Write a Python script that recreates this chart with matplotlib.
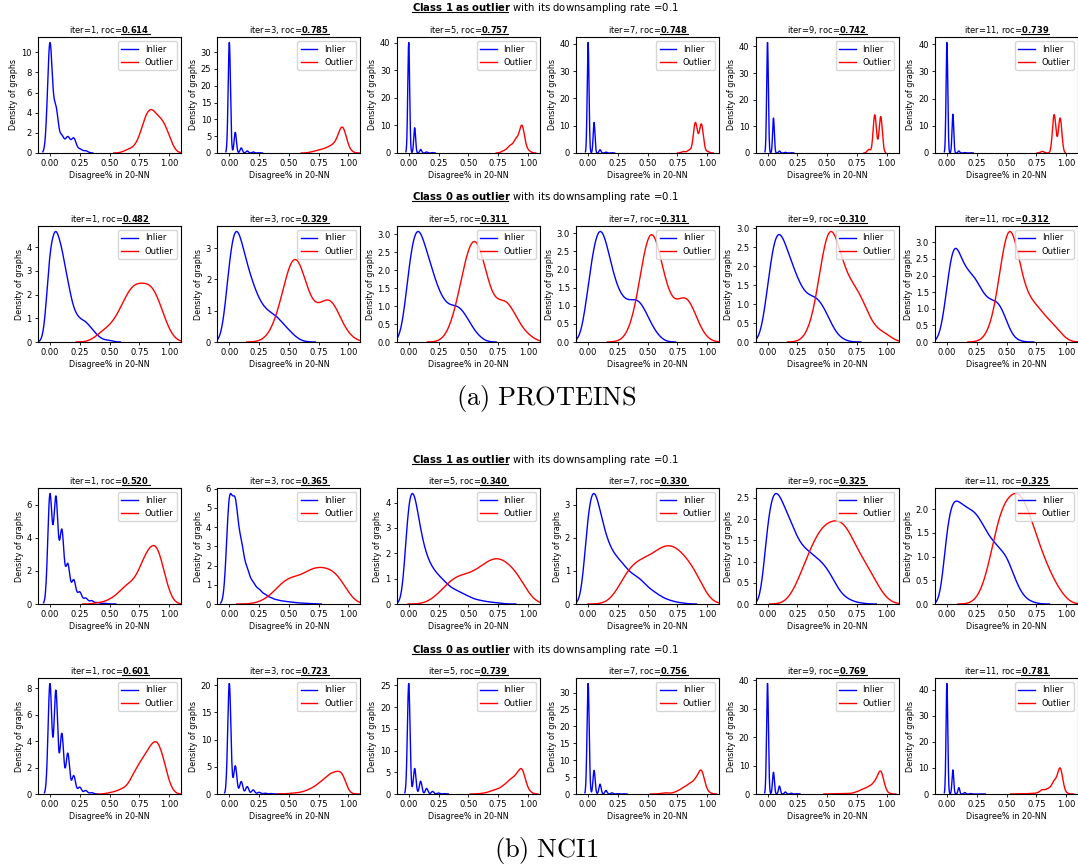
import numpy as np
import matplotlib
matplotlib.use('Agg')
import matplotlib.pyplot as plt
import seaborn as sns
from matplotlib.lines import Line2D
from matplotlib.ticker import MaxNLocator

# disagree% takes the values k/20 (k = 0..20); counts of graphs per level
levels = np.arange(21) / 20
iters = [1, 3, 5, 7, 9, 11]

# PROTEINS, class 1 as outlier
proteins_c1_in = [
    [355, 140, 52, 50, 47, 12, 7],
    [525, 98, 24, 10, 5, 1],
    [520, 119, 17, 5, 2],
    [504, 139, 15, 4, 1],
    [494, 156, 9, 3, 1],
    [482, 169, 9, 2, 1],
]
proteins_c1_out = [
    [0, 0, 0, 0, 0, 0, 0, 0, 0, 0, 0, 0, 0, 1, 1, 3, 9, 11, 8, 8, 4],
    [0, 0, 0, 0, 0, 0, 0, 0, 0, 0, 0, 0, 0, 0, 1, 2, 3, 5, 7, 25, 2],
    [0, 0, 0, 0, 0, 0, 0, 0, 0, 0, 0, 0, 0, 0, 0, 0, 2, 6, 11, 24, 2],
    [0, 0, 0, 0, 0, 0, 0, 0, 0, 0, 0, 0, 0, 0, 0, 0, 1, 2, 21, 20, 1],
    [0, 0, 0, 0, 0, 0, 0, 0, 0, 0, 0, 0, 0, 0, 0, 0, 0, 2, 22, 21, 0],
    [0, 0, 0, 0, 0, 0, 0, 0, 0, 0, 0, 0, 0, 0, 0, 0, 1, 0, 23, 21, 0],
]
proteins_c1_roc = [0.614, 0.785, 0.757, 0.748, 0.742, 0.739]

# PROTEINS, class 0 as outlier
proteins_c0_in = [
    [95, 112, 90, 58, 30, 22, 20, 13, 6, 2, 2],
    [66, 92, 74, 55, 42, 30, 24, 21, 19, 13, 9, 4, 1],
    [52, 76, 73, 56, 45, 32, 25, 22, 24, 21, 14, 7, 3],
    [36, 64, 78, 64, 45, 32, 26, 25, 28, 25, 16, 8, 3],
    [32, 66, 70, 58, 48, 38, 30, 27, 28, 24, 17, 8, 3, 1],
    [36, 78, 61, 50, 47, 43, 33, 28, 29, 27, 14, 3, 1],
]
proteins_c0_out = [
    [0, 0, 0, 0, 0, 0, 0, 0, 1, 2, 2, 3, 5, 7, 9, 8, 8, 9, 7, 4, 1],
    [0, 0, 0, 0, 0, 0, 0, 1, 2, 5, 9, 12, 9, 5, 3, 3, 5, 6, 4, 1, 1],
    [0, 0, 0, 0, 0, 0, 0, 1, 3, 6, 10, 11, 10, 6, 3, 3, 5, 4, 2, 1, 1],
    [0, 0, 0, 0, 0, 0, 0, 1, 2, 7, 12, 12, 8, 5, 3, 3, 5, 5, 2, 1, 0],
    [0, 0, 0, 0, 0, 0, 0, 1, 2, 7, 12, 11, 8, 6, 5, 5, 4, 2, 1, 1, 1],
    [0, 0, 0, 0, 0, 0, 0, 1, 2, 7, 14, 13, 8, 5, 4, 4, 3, 2, 2, 1, 0],
]
proteins_c0_roc = [0.482, 0.329, 0.311, 0.311, 0.310, 0.312]

# NCI1, class 1 as outlier
nci1_c1_in = [
    [600, 580, 400, 215, 130, 65, 32, 18, 8, 4, 1],
    [620, 575, 330, 185, 113, 78, 51, 33, 22, 16, 12, 8, 5, 3, 2],
    [488, 463, 293, 195, 146, 117, 93, 68, 56, 44, 32, 20, 15, 10, 7, 5, 1],
    [330, 380, 290, 210, 165, 143, 122, 98, 88, 75, 52, 40, 26, 16, 10, 5, 3],
    [218, 284, 267, 230, 197, 160, 138, 127, 116, 103, 87, 61, 33, 17, 9, 4, 2],
    [180, 232, 222, 211, 205, 196, 173, 148, 133, 118, 106, 70, 36, 15, 6, 2],
]
nci1_c1_out = [
    [0, 0, 0, 0, 0, 0, 0, 0, 1, 1, 3, 5, 9, 13, 14, 21, 32, 37, 40, 23, 6],
    [0, 0, 0, 0, 0, 1, 2, 4, 8, 11, 14, 13, 13, 16, 18, 18, 18, 17, 16, 11, 5],
    [0, 0, 0, 0, 2, 4, 7, 10, 12, 12, 12, 13, 15, 17, 19, 20, 18, 16, 14, 10, 4],
    [0, 0, 0, 0, 1, 4, 8, 11, 12, 13, 13, 14, 16, 17, 17, 16, 14, 12, 10, 6, 1],
    [0, 0, 0, 0, 2, 5, 9, 13, 16, 19, 20, 20, 21, 20, 17, 13, 11, 9, 6, 3, 1],
    [0, 0, 0, 0, 0, 1, 3, 8, 15, 21, 23, 24, 25, 23, 19, 15, 11, 8, 5, 3, 1],
]
nci1_c1_roc = [0.520, 0.365, 0.340, 0.330, 0.325, 0.325]

# NCI1, class 0 as outlier
nci1_c0_in = [
    [657, 616, 359, 242, 109, 41, 21, 8],
    [1369, 349, 154, 92, 51, 21, 10, 6, 1],
    [1433, 331, 166, 72, 33, 13, 5],
    [1520, 325, 136, 49, 16, 5, 2],
    [1583, 312, 113, 29, 12, 4],
    [1585, 345, 92, 21, 7, 2, 1],
]
nci1_c0_out = [
    [0, 0, 0, 0, 0, 0, 0, 0, 0, 0, 1, 2, 4, 6, 16, 24, 31, 39, 44, 30, 8],
    [0, 0, 0, 0, 0, 0, 0, 0, 0, 0, 1, 2, 3, 7, 12, 20, 30, 40, 43, 46, 1],
    [0, 0, 0, 0, 0, 0, 0, 0, 0, 0, 0, 0, 1, 3, 8, 12, 21, 35, 44, 72, 9],
    [0, 0, 0, 0, 0, 0, 0, 0, 0, 0, 0, 0, 1, 4, 2, 9, 20, 32, 44, 86, 7],
    [0, 0, 0, 0, 0, 0, 0, 0, 0, 0, 0, 1, 1, 2, 2, 8, 18, 27, 43, 99, 4],
    [0, 0, 0, 0, 0, 0, 0, 0, 0, 0, 0, 0, 1, 1, 2, 3, 17, 20, 50, 108, 3],
]
nci1_c0_roc = [0.601, 0.723, 0.739, 0.756, 0.769, 0.781]

groups = [
    (proteins_c1_in, proteins_c1_out, proteins_c1_roc, 'Class 1 as outlier'),
    (proteins_c0_in, proteins_c0_out, proteins_c0_roc, 'Class 0 as outlier'),
    (nci1_c1_in, nci1_c1_out, nci1_c1_roc, 'Class 1 as outlier'),
    (nci1_c0_in, nci1_c0_out, nci1_c0_roc, 'Class 0 as outlier'),
]

W, H = 1078, 867
fig = plt.figure(figsize=(W / 100, H / 100), dpi=100)

col_left = [38 + 179.4 * i for i in range(6)]
row_top = [37, 226, 488, 678]
head_y = [8, 197, 460, 650]
ax_w, ax_h = 143, 116


def samples(counts):
    counts = np.asarray(counts)
    return np.repeat(levels[:len(counts)], counts)


underlines = []  # (text, bold part, which side of the text)

for r, (inl, outl, rocs, head) in enumerate(groups):
    for c in range(6):
        ax = fig.add_axes([col_left[c] / W, 1 - (row_top[r] + ax_h) / H, ax_w / W, ax_h / H])
        sns.kdeplot(x=samples(inl[c]), ax=ax, color='blue', linewidth=1, label='Inlier')
        sns.kdeplot(x=samples(outl[c]), ax=ax, color='red', linewidth=1, label='Outlier')
        ax.set_xlim(-0.1, 1.1)
        ax.set_xticks([0, 0.25, 0.5, 0.75, 1.0])
        ax.yaxis.set_major_locator(MaxNLocator(nbins=7, steps=[1, 2, 2.5, 5, 10]))
        ax.set_xlabel('Disagree% in 20-NN', fontsize=5.8, labelpad=2)
        ax.set_ylabel('Density of graphs', fontsize=5.8, labelpad=2)
        ax.tick_params(labelsize=6, length=2.5, width=0.6, pad=2)
        ax.legend(loc='upper right', fontsize=6)
        bold = f'{rocs[c]:.3f}'
        t = ax.set_title('iter=%d, roc=$\\mathbf{%s}$' % (iters[c], bold), fontsize=6, pad=3)
        underlines.append((t, '$\\mathbf{%s}$' % bold, 'right'))
    bold_head = '$\\mathbf{%s}$' % head.replace(' ', '\\ ')
    t = fig.text(0.5056, 1 - head_y[r] / H, bold_head + ' with its downsampling rate =0.1',
                 fontsize=7.3, ha='center', va='center')
    underlines.append((t, bold_head, 'left'))

fig.text(0.5065, 1 - 398 / H, r'$\mathrm{(a)\ PROTEINS}$', math_fontfamily='cm',
         fontsize=19, ha='center', va='center')
fig.text(0.5065, 1 - 850 / H, r'$\mathrm{(b)\ NCI1}$', math_fontfamily='cm',
         fontsize=19, ha='center', va='center')

# underline the bold parts
fig.canvas.draw()
renderer = fig.canvas.get_renderer()
for t, part, side in underlines:
    bb = t.get_window_extent(renderer)
    tmp = fig.text(0, 0, part, fontsize=t.get_fontsize())
    w = tmp.get_window_extent(renderer).width
    tmp.remove()
    _, _, descent = renderer.get_text_width_height_descent(
        t.get_text(), t.get_fontproperties(), ismath=True)
    y = bb.y0 + descent - 1.2
    x0, x1 = (bb.x1 - w, bb.x1) if side == 'right' else (bb.x0, bb.x0 + w - 3)
    fig.add_artist(Line2D([x0 / W, x1 / W], [y / H, y / H], transform=fig.transFigure,
                          color='black', linewidth=0.8))

fig.savefig('out.png', dpi=100)
